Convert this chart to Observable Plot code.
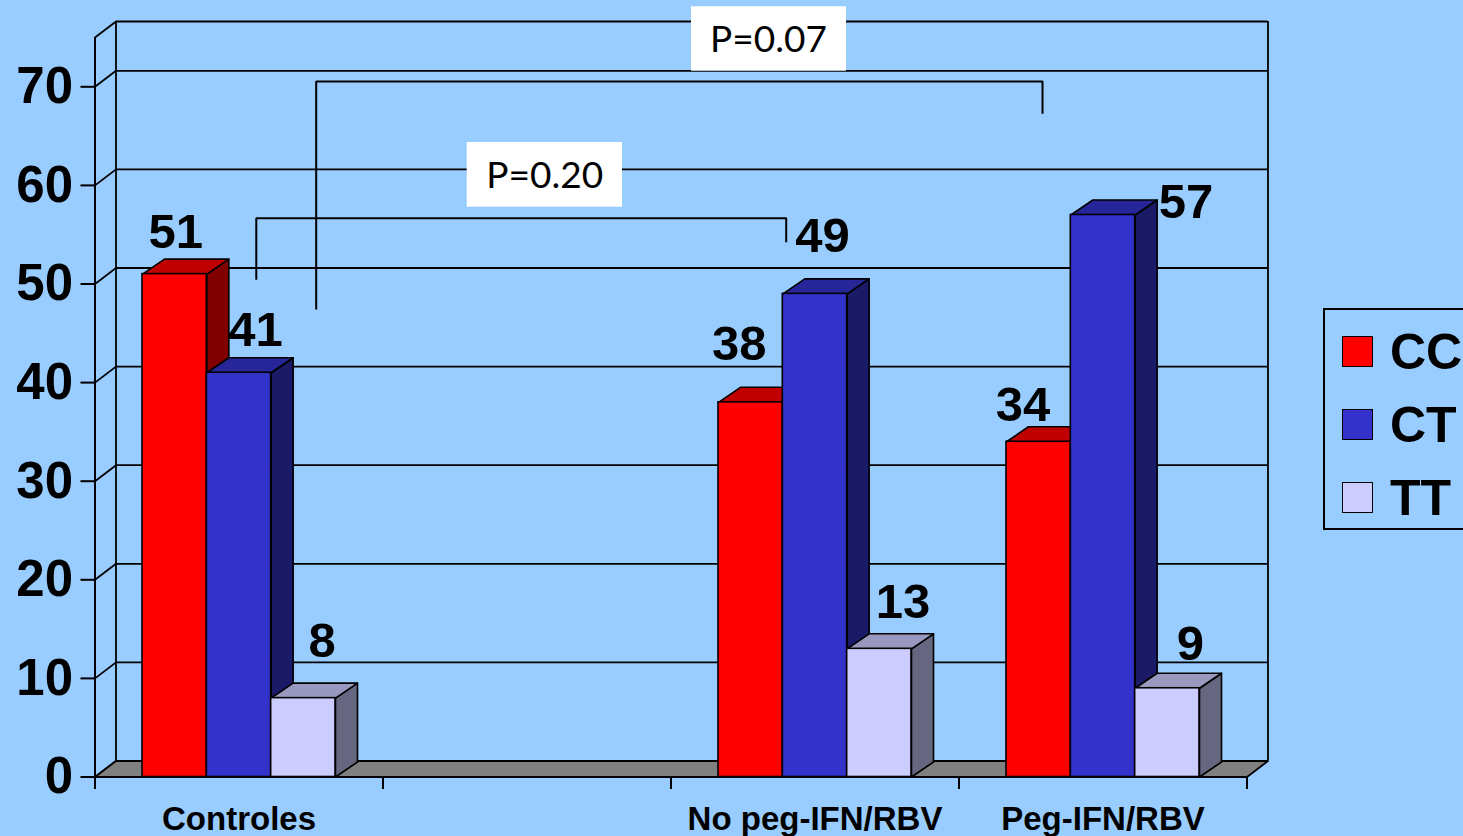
<!DOCTYPE html>
<html>
<head>
<meta charset="utf-8">
<script src="https://cdn.jsdelivr.net/npm/d3@7"></script>
<script src="https://cdn.jsdelivr.net/npm/@observablehq/plot@0.6"></script>
<style>
  html, body { margin:0; padding:0; background:#99CCFF; overflow:hidden; }
  #wrap { position:relative; width:1463px; height:836px; overflow:hidden; background:#99CCFF; }
  #legend { position:absolute; left:1323px; top:308px; width:220px; height:222px; border:2px solid #000; box-sizing:border-box; }
  #legend .sw { position:absolute; left:17px; width:31px; height:31px; border:1.5px solid #000; box-sizing:border-box; }
  #legend .lb { position:absolute; left:65px; font: bold 50px "Liberation Sans", Arial, sans-serif; line-height:50px; color:#000; white-space:nowrap; }
</style>
</head>
<body>
<div id="wrap"><div id="chart"></div><div id="legend"></div></div>
<script>
// ---------- data ----------
const categories = ["Controles", "", "No peg-IFN/RBV", "Peg-IFN/RBV"];
const genotypes = ["CC", "CT", "TT"];
const valuesCC = [51, null, 38, 34];
const valuesCT = [41, null, 49, 57];
const valuesTT = [8, null, 13, 9];
const yTicks = [0, 10, 20, 30, 40, 50, 60, 70];
const pLabels = ["P=0.20", "P=0.07"];

// ---------- styles ----------
const frontColors = ["#FF0000", "#3333CC", "#CCCCFF"];
const topColors = ["#C00000", "#262699", "#9999BF"];
const sideColors = ["#800000", "#1A1A66", "#666680"];
const FONT = '"Liberation Sans", Arial, Helvetica, sans-serif';

// ---------- layout ----------
const W = 1463, H = 836;
const ML = 94.5, MR = 216.5, MT = 37, MB = 59.5;
const YMAX = 75;
const SX = (W - ML - MR) / categories.length; // px per category slot
const SY = (H - MT - MB) / YMAX;              // px per unit
const bdx = 22 / SX, bdy = 15 / SY;           // bar depth
const wdx = 21 / SX, wdy = 16 / SY;           // wall depth
const barOff = 47.5 / SX, barW = 64.33 / SX;
// label nudges (px): horizontal shift and baseline height above bar top
const labelNudgeX = [[1, 0, -11.5, -15.7], [16.5, 0, 7.5, 83], [18.7, 0, 23.7, 23]];
const labelNudgeUp = [[26.6, 0, 42, 21], [27, 0, 42, -3.5], [41.6, 0, 31, 28]];
// significance brackets (data units)
const bracketGeom = [
  {pts: [[0.560, 50.43], [0.560, 56.67], [2.400, 56.67], [2.400, 54.24]], box: [1.2924, 1.8316, 57.79, 64.35], text: [1.5615, 59.76]},
  {pts: [[0.768, 47.41], [0.768, 70.54], [3.290, 70.54], [3.290, 67.26]], box: [2.0712, 2.6094, 71.58, 78.12], text: [2.3385, 73.51]}
];

// ---------- build rows ----------
const series = [valuesCC, valuesCT, valuesTT];
const rows = [];
categories.forEach((cat, ci) => {
  series.forEach((vals, gi) => {
    const v = vals[ci];
    if (v == null) return;
    const x1 = ci + barOff + gi * barW;
    rows.push({cat, ci, g: genotypes[gi], gi, v, x1, x2: x1 + barW});
  });
});

function poly(rs, f) {
  return rs.flatMap((r, i) => f(r).map(([x, y]) => ({id: i, x, y})));
}
const sideFaces = gi => poly(rows.filter(r => r.gi === gi), r => [[r.x2, 0], [r.x2, r.v], [r.x2 + bdx, r.v + bdy], [r.x2 + bdx, bdy], [r.x2, 0]]);
const topFaces = gi => poly(rows.filter(r => r.gi === gi), r => [[r.x1, r.v], [r.x2, r.v], [r.x2 + bdx, r.v + bdy], [r.x1 + bdx, r.v + bdy], [r.x1, r.v]]);

const floorPts = [[0, 0], [categories.length, 0], [categories.length + wdx, wdy], [wdx, wdy], [0, 0]].map(([x, y]) => ({x, y}));
const gridLevels = [...yTicks, YMAX];
const slotEdges = d3.range(categories.length + 1);

const bracketPts = bracketGeom.flatMap((b, i) => b.pts.map(([x, y]) => ({id: i, x, y})));

const marks = [
  // back wall grid
  Plot.ruleY(gridLevels, {y: d => d + wdy, x1: wdx, x2: categories.length + wdx, stroke: "black", strokeWidth: 1.8}),
  Plot.ruleX([wdx, categories.length + wdx], {y1: wdy, y2: YMAX + wdy, stroke: "black", strokeWidth: 1.8}),
  // side wall diagonals
  Plot.link(gridLevels, {x1: 0, y1: d => d, x2: wdx, y2: d => d + wdy, stroke: "black", strokeWidth: 1.8}),
  // floor
  Plot.line(floorPts, {x: "x", y: "y", fill: "#808080", stroke: "black", strokeWidth: 1.8}),
  // front y axis line
  Plot.ruleX([0], {y1: 0, y2: YMAX, stroke: "black", strokeWidth: 2}),
  // y ticks
  Plot.ruleY(yTicks, {x1: -14 / SX, x2: 0, stroke: "black", strokeWidth: 2}),
  Plot.text(yTicks, {x: 0, y: d => d, text: d => String(d), dx: -22, textAnchor: "end", lineAnchor: "middle", fontSize: 51, fontWeight: "bold", fill: "black"}),
  // x axis + ticks
  Plot.ruleY([0], {x1: 0, x2: categories.length, stroke: "black", strokeWidth: 2}),
  Plot.ruleX(slotEdges, {y1: 0, y2: -12.5 / SY, stroke: "black", strokeWidth: 2}),
  Plot.text(categories.map((c, i) => ({c, i})).filter(d => d.c), {x: d => d.i + 0.5, y: 0, text: "c", dy: 52.5, lineAnchor: "bottom", fontSize: 33, fontWeight: "bold", fill: "black"}),
  // bars: sides, tops, fronts
  ...genotypes.map((g, gi) => Plot.line(sideFaces(gi), {x: "x", y: "y", z: "id", fill: sideColors[gi], stroke: "black", strokeWidth: 1.6})),
  ...genotypes.map((g, gi) => Plot.line(topFaces(gi), {x: "x", y: "y", z: "id", fill: topColors[gi], stroke: "black", strokeWidth: 1.6})),
  ...genotypes.map((g, gi) => Plot.rect(rows.filter(r => r.gi === gi), {x1: "x1", x2: "x2", y1: 0, y2: "v", fill: frontColors[gi], stroke: "black", strokeWidth: 1.6})),
  // value labels
  Plot.text(rows, {
    x: r => (r.x1 + r.x2) / 2 + labelNudgeX[r.gi][r.ci] / SX,
    y: r => r.v + labelNudgeUp[r.gi][r.ci] / SY,
    text: r => String(r.v), lineAnchor: "bottom", fontSize: 49, fontWeight: "bold", fill: "black"
  }),
  // brackets
  Plot.line(bracketPts, {x: "x", y: "y", z: "id", stroke: "black", strokeWidth: 2, strokeLinecap: "butt", strokeLinejoin: "miter"}),
  Plot.rect(bracketGeom, {x1: d => d.box[0], x2: d => d.box[1], y1: d => d.box[2], y2: d => d.box[3], fill: "white"}),
  Plot.text(bracketGeom, {x: d => d.text[0], y: d => d.text[1], text: (d, i) => pLabels[i], lineAnchor: "bottom", fontSize: 37, fontFamily: "Lato", fill: "black"})
];

const chart = Plot.plot({
  width: W, height: H,
  marginLeft: ML, marginRight: MR, marginTop: MT, marginBottom: MB,
  x: {type: "linear", domain: [0, categories.length], axis: null},
  y: {type: "linear", domain: [0, YMAX], axis: null},
  style: {background: "#99CCFF", color: "black", fontFamily: FONT, overflow: "visible"},
  marks
});
document.getElementById("chart").appendChild(chart);

// legend
const legend = document.getElementById("legend");
const swTops = [25.7, 99, 171.7];
const lbTops = [16.6, 90.1, 162.6];
genotypes.forEach((g, gi) => {
  const sw = document.createElement("div");
  sw.className = "sw"; sw.style.top = swTops[gi] + "px"; sw.style.background = frontColors[gi];
  legend.appendChild(sw);
  const lb = document.createElement("div");
  lb.className = "lb"; lb.style.top = lbTops[gi] + "px"; lb.textContent = g;
  legend.appendChild(lb);
});
</script>
</body>
</html>
